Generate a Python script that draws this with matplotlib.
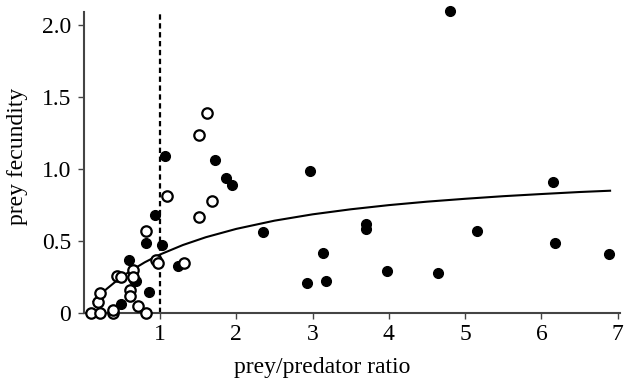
import matplotlib
matplotlib.use('Agg')
import matplotlib.pyplot as plt

plt.rcParams['font.family'] = ['Liberation Serif', 'DejaVu Serif']

# open circles
open_x = [0.10, 0.21, 0.19, 0.21, 0.39, 0.39, 0.43, 0.49, 0.64, 0.64, 0.60, 0.60,
          0.71, 0.81, 0.81, 0.95, 0.97, 1.31, 1.09, 1.68, 1.51, 1.62, 1.51]
open_y = [0.00, 0.00, 0.08, 0.14, 0.00, 0.02, 0.26, 0.25, 0.30, 0.25, 0.16, 0.12,
          0.05, 0.00, 0.57, 0.37, 0.35, 0.35, 0.81, 0.78, 0.67, 1.39, 1.24]

# filled circles
filled_x = [0.93, 0.81, 1.03, 0.59, 1.24, 0.69, 0.66, 0.86, 0.49, 1.06, 1.72, 1.86, 1.95,
            4.80, 2.97, 6.15, 2.35, 3.70, 3.70, 5.16, 3.13, 6.18, 6.89, 2.93, 3.17, 3.98, 4.65]
filled_y = [0.68, 0.49, 0.47, 0.37, 0.33, 0.22, 0.23, 0.15, 0.06, 1.09, 1.06, 0.94, 0.89,
            2.095, 0.99, 0.91, 0.565, 0.62, 0.585, 0.57, 0.42, 0.486, 0.41, 0.21, 0.22, 0.29, 0.28]

# fitted curve
curve_x = [0.13, 0.2, 0.3, 0.45, 0.6, 0.8, 1.0, 1.3, 1.6, 2.0, 2.5, 3.0, 3.5,
           4.0, 4.5, 5.0, 5.5, 6.0, 6.5, 6.9]
curve_y = [0.081, 0.118, 0.168, 0.233, 0.289, 0.353, 0.407, 0.473, 0.527, 0.585, 0.642,
           0.686, 0.721, 0.750, 0.774, 0.794, 0.812, 0.827, 0.841, 0.850]

xticks = [1, 2, 3, 4, 5, 6, 7]
yticks = [0, 0.5, 1.0, 1.5, 2.0]
ytick_labels = ['0', '0.5', '1.0', '1.5', '2.0']

fig = plt.figure(figsize=(6.25, 3.8), dpi=100)
ax = fig.add_axes([0.134, 0.176, 0.858, 0.792])

ax.axvline(1, color='black', lw=1.6, linestyle=(0, (2.4, 1.6)), zorder=1)
ax.plot(curve_x, curve_y, color='black', lw=1.5, zorder=2)
ax.plot(filled_x, filled_y, 'o', color='black', markersize=7, clip_on=False, zorder=3)
ax.plot(open_x, open_y, 'o', markerfacecolor='white', markeredgecolor='black',
        markeredgewidth=1.6, markersize=7.5, clip_on=False, zorder=4)

ax.set_xlim(0, 7.03)
ax.set_ylim(0, 2.09)
ax.set_xticks(xticks)
ax.set_yticks(yticks)
ax.set_yticklabels(ytick_labels)

for side in ['top', 'right']:
    ax.spines[side].set_visible(False)
for side in ['left', 'bottom']:
    ax.spines[side].set_color('#444444')
    ax.spines[side].set_linewidth(1.5)
ax.tick_params(direction='out', length=4, width=1, color='#444444', labelsize=17)
ax.tick_params(axis='x', pad=4)
ax.tick_params(axis='y', pad=5)

ax.set_xlabel('prey/predator ratio', fontsize=17)
ax.xaxis.set_label_coords(0.445, -0.145)
ax.set_ylabel('prey fecundity', fontsize=17)
ax.yaxis.set_label_coords(-0.104, 0.52)

fig.savefig('out.png', dpi=100)
